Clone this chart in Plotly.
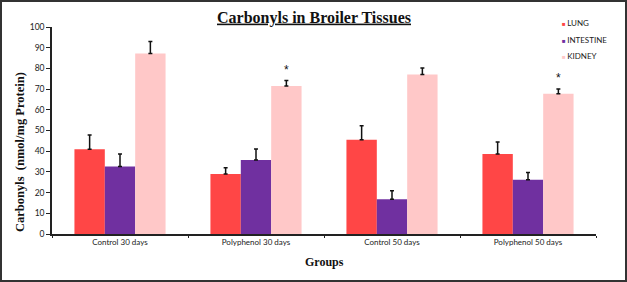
import plotly.graph_objects as go

groups = ["Control 30 days", "Polyphenol 30 days", "Control 50 days", "Polyphenol 50 days"]
series_names = ["LUNG", "INTESTINE", "KIDNEY"]
lung = [41, 29, 45.5, 38.7]
lung_err = [6.8, 3.0, 6.8, 5.8]
intestine = [32.6, 35.8, 16.8, 26.2]
intestine_err = [6.0, 5.3, 4.1, 3.5]
kidney = [87.2, 71.5, 77.0, 67.8]
kidney_err = [5.8, 2.6, 3.2, 2.2]
significant = ["Polyphenol 30 days", "Polyphenol 50 days"]
colors = ["#FF4646", "#7030A0", "#FFC8C8"]
yticks = [0, 10, 20, 30, 40, 50, 60, 70, 80, 90, 100]

W, H = 627, 282
L, R, T, B = 52, 31, 27, 48
pw, ph = W - L - R, H - T - B

fig = go.Figure()
vals = [lung, intestine, kidney]
errs = [lung_err, intestine_err, kidney_err]
for name, v, e, c in zip(series_names, vals, errs, colors):
    fig.add_trace(go.Bar(
        x=groups, y=v, name=name, marker=dict(color=c, line=dict(width=0)),
        error_y=dict(type="data", array=e, arrayminus=[0] * len(e), symmetric=False,
                     color="#111111", thickness=1.5, width=2),
        showlegend=False))

# legend drawn as text entries (colored square + name)
legend_rows = [22.7, 39.5, 56.3]
for name, c, ry in zip(series_names, colors, legend_rows):
    fig.add_annotation(x=(560 - L) / pw, y=(H - B - ry) / ph, xref="paper", yref="paper",
                       xanchor="left", yanchor="middle", showarrow=False,
                       text=f"<span style='color:{c};font-size:6px'>■ </span>"
                            f"<span style='color:#222222'>{name}</span>",
                       font=dict(family="Lato", size=8, color="#222222"))

# significance asterisks above kidney error bars
for g in significant:
    i = groups.index(g)
    fig.add_annotation(x=g, y=kidney[i] + kidney_err[i], yref="y", xref="x",
                       text="*", showarrow=False, xshift=30, yshift=11,
                       font=dict(family="Liberation Sans", size=12, color="#111111"))

fig.add_annotation(x=-(L - 20) / pw, y=(H - B - 152) / ph, xref="paper", yref="paper",
                   xanchor="center", yanchor="middle",
                   text="<b>Carbonyls  (nmol/mg Protein)</b>", textangle=-90,
                   showarrow=False, font=dict(family="Liberation Serif", size=12.5, color="#111111"))
fig.add_annotation(x=(324 - L) / pw, y=-(262 - (H - B)) / ph, xref="paper", yref="paper",
                   xanchor="center", yanchor="middle",
                   text="<b>Groups</b>", showarrow=False,
                   font=dict(family="Liberation Serif", size=12, color="#111111"))

# outer frame
fig.add_shape(type="rect", xref="paper", yref="paper",
              x0=-(L - 1) / pw, x1=1 + (R - 1) / pw, y0=-(B - 1) / ph, y1=1 + (T - 1) / ph,
              line=dict(color="#333333", width=2), layer="above")

fig.update_layout(
    width=W, height=H,
    margin=dict(l=L, r=R, t=T, b=B),
    paper_bgcolor="white", plot_bgcolor="white",
    barmode="group", bargap=0.33, bargroupgap=0,
    title=dict(text="<b><u>Carbonyls in Broiler Tissues</u></b>", x=314 / W, xanchor="center",
               y=1 - 17 / H, yanchor="middle",
               font=dict(family="Liberation Serif", size=16, color="#111111")),
    showlegend=False,
)
fig.update_xaxes(showline=True, linecolor="#222222", linewidth=1.5, ticks="outside",
                 tickson="boundaries", ticklen=2, tickcolor="#222222",
                 tickfont=dict(family="Lato", size=8, color="#222222"), showgrid=False)
fig.update_yaxes(range=[0, 100], tickvals=yticks, showline=True, linecolor="#222222",
                 linewidth=1.5, ticks="outside", ticklen=4, tickcolor="#222222",
                 tickfont=dict(family="Lato", size=8.5, color="#222222"), showgrid=False,
                 zeroline=False)

fig.write_html("out.html")
